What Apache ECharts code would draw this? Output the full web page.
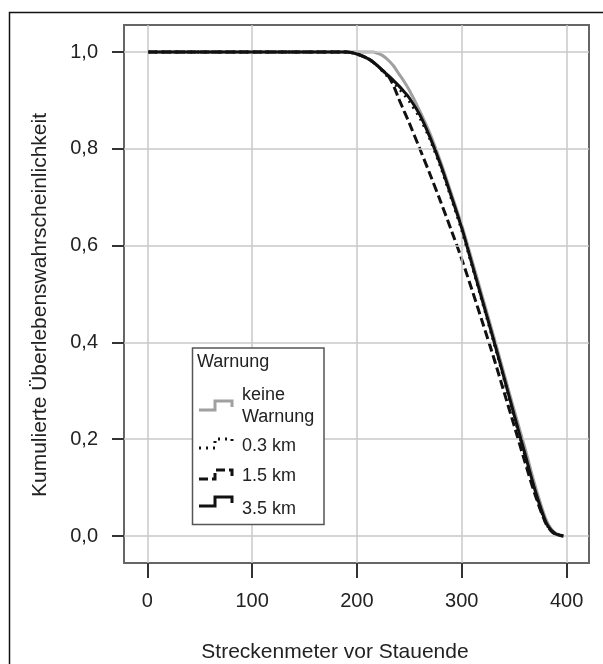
<!DOCTYPE html>
<html>
<head>
<meta charset="utf-8">
<script src="https://cdn.jsdelivr.net/npm/echarts@6/dist/echarts.min.js"></script>
<style>
html,body{margin:0;padding:0;background:#fff;}
#chart{width:603px;height:664px;}
</style>
</head>
<body>
<div id="chart"></div>
<script>
// Data
const xValues = [1, 100, 190, 200, 210, 215, 220, 225, 230, 235, 240, 245, 250, 260, 270, 280, 290, 300, 310, 320, 330, 340, 350, 360, 370, 380, 385, 390, 397];
const keineWarnung = [1,1,1,1,1,1,0.997,0.992,0.983,0.971,0.955,0.939,0.921,0.878,0.830,0.772,0.708,0.642,0.568,0.492,0.416,0.338,0.260,0.184,0.104,0.036,0.016,0.005,0];
const warn03 = [1,1,1,0.996,0.987,0.980,0.971,0.959,0.948,0.937,0.925,0.912,0.898,0.864,0.818,0.762,0.698,0.632,0.557,0.481,0.405,0.327,0.247,0.168,0.090,0.028,0.012,0.004,0];
const warn15 = [1,1,1,0.996,0.987,0.980,0.971,0.961,0.950,0.930,0.903,0.878,0.853,0.800,0.746,0.690,0.632,0.572,0.507,0.440,0.372,0.300,0.228,0.155,0.085,0.027,0.011,0.003,0];
const warn35 = [1,1,1,0.996,0.987,0.980,0.971,0.961,0.951,0.941,0.930,0.918,0.905,0.870,0.822,0.766,0.702,0.636,0.560,0.484,0.408,0.330,0.250,0.172,0.094,0.030,0.013,0.004,0];
const xTicks = [0, 100, 200, 300, 400];
const yTicks = [0, 0.2, 0.4, 0.6, 0.8, 1.0];
const legendTitle = 'Warnung';
const legendLabels = ['keine\nWarnung', '0.3 km', '1.5 km', '3.5 km'];
const xName = 'Streckenmeter vor Stauende';
const yName = 'Kumulierte Überlebenswahrscheinlichkeit';

const FONT = '"Liberation Sans", Arial, Helvetica, sans-serif';
const TXT = '#222';
const pairs = arr => xValues.map((x, i) => [x, arr[i]]);

const chart = echarts.init(document.getElementById('chart'), null, {renderer: 'canvas'});

// legend symbols (step shapes)
function stepShape(x0, low, style) {
  return {
    type: 'polyline',
    shape: {points: [[x0, low], [x0 + 16, low], [x0 + 16, low - 9], [x0 + 33, low - 9], [x0 + 33, low - 3]]},
    style: Object.assign({fill: null, lineWidth: 3}, style),
    z: 101
  };
}

const option = {
  animation: false,
  backgroundColor: '#fff',
  grid: {left: 124, top: 25, right: 14, bottom: 101, show: true, borderColor: '#666', borderWidth: 2, backgroundColor: 'transparent'},
  xAxis: {
    type: 'value', min: -22.2, max: 421.4,
    axisLine: {show: false, onZero: false},
    splitLine: {show: false},
    axisTick: {show: true, customValues: xTicks, length: 15, lineStyle: {color: '#333', width: 2}},
    axisLabel: {customValues: xTicks, margin: 28, fontSize: 20, color: TXT, fontFamily: FONT}
  },
  yAxis: {
    type: 'value', min: -0.0558, max: 1.0558,
    axisLine: {show: false, onZero: false},
    splitLine: {show: false},
    axisTick: {show: true, customValues: yTicks, length: 12, lineStyle: {color: '#333', width: 2}},
    axisLabel: {customValues: yTicks, margin: 26, fontSize: 20, color: TXT, fontFamily: FONT,
      formatter: v => v.toFixed(1).replace('.', ',')}
  },
  series: [
    {
      type: 'line', data: [], z: 1, silent: true,
      markLine: {
        silent: true, symbol: 'none', animation: false,
        label: {show: false},
        lineStyle: {color: '#c8c8c8', width: 1.5, type: 'solid'},
        data: xTicks.map(v => ({xAxis: v})).concat(yTicks.map(v => ({yAxis: v})))
      }
    },
    {name: 'keine Warnung', type: 'line', data: pairs(keineWarnung), smooth: 0.3, showSymbol: false, z: 3,
      lineStyle: {color: '#a0a0a0', width: 3}},
    {name: '1.5 km', type: 'line', data: pairs(warn15), smooth: 0.3, showSymbol: false, z: 4,
      lineStyle: {color: '#111', width: 3, type: [9, 4]}},
    {name: '0.3 km', type: 'line', data: pairs(warn03), smooth: 0.3, showSymbol: false, z: 5,
      lineStyle: {color: '#111', width: 3, type: [2, 5]}},
    {name: '3.5 km', type: 'line', data: pairs(warn35), smooth: 0.3, showSymbol: false, z: 6,
      lineStyle: {color: '#111', width: 3}}
  ],
  graphic: [
    {type: 'rect', shape: {x: 9.5, y: 12.5, width: 600, height: 700}, style: {fill: null, stroke: '#111', lineWidth: 1.5}, z: 100, silent: true},
    {type: 'text', x: 335, y: 652, style: {text: xName, fill: TXT, font: '21px ' + FONT, textAlign: 'center', textVerticalAlign: 'middle'}, z: 100},
    {type: 'text', x: 40, y: 305, rotation: Math.PI / 2, style: {text: yName, fill: TXT, font: '21px ' + FONT, textAlign: 'center', textVerticalAlign: 'middle'}, z: 100},
    // legend
    {type: 'rect', shape: {x: 192.5, y: 348, width: 131.5, height: 176.5}, style: {fill: '#fff', stroke: '#555', lineWidth: 1.5}, z: 100},
    {type: 'text', x: 197, y: 362, style: {text: legendTitle, fill: TXT, font: '18px ' + FONT, textAlign: 'left', textVerticalAlign: 'middle'}, z: 101},
    stepShape(199, 410, {stroke: '#a0a0a0'}),
    {type: 'text', x: 242, y: 406, style: {text: legendLabels[0], fill: TXT, font: '18px ' + FONT, lineHeight: 22, textAlign: 'left', textVerticalAlign: 'middle'}, z: 101},
    stepShape(199, 448, {stroke: '#111', lineDash: [2, 5]}),
    {type: 'text', x: 242, y: 446, style: {text: legendLabels[1], fill: TXT, font: '18px ' + FONT, textAlign: 'left', textVerticalAlign: 'middle'}, z: 101},
    stepShape(199, 479, {stroke: '#111', lineDash: [9, 4]}),
    {type: 'text', x: 242, y: 476, style: {text: legendLabels[2], fill: TXT, font: '18px ' + FONT, textAlign: 'left', textVerticalAlign: 'middle'}, z: 101},
    stepShape(199, 506, {stroke: '#111'}),
    {type: 'text', x: 242, y: 509, style: {text: legendLabels[3], fill: TXT, font: '18px ' + FONT, textAlign: 'left', textVerticalAlign: 'middle'}, z: 101}
  ]
};
chart.setOption(option);
</script>
</body>
</html>
